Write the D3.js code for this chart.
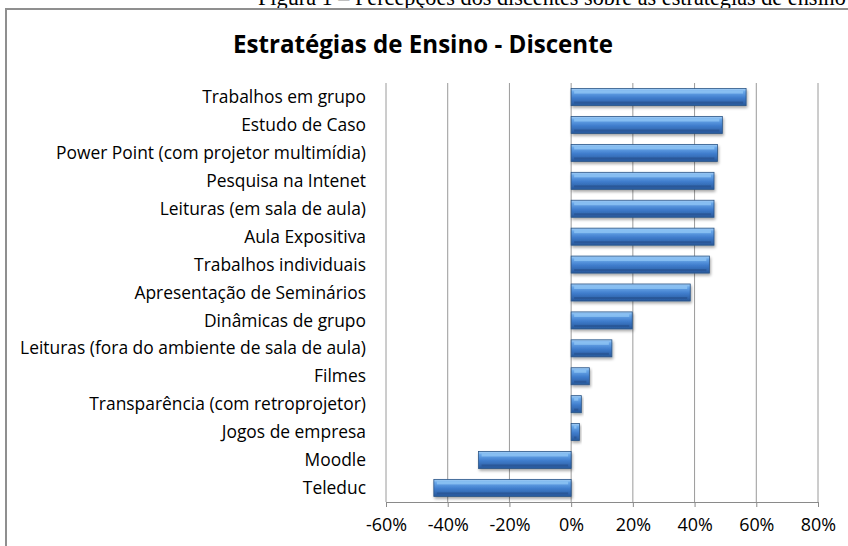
<!DOCTYPE html>
<html lang="pt">
<head>
    <meta charset="UTF-8">
    <title>Estratégias de Ensino - Discente</title>
    <script src="https://d3js.org/d3.v7.min.js"></script>
    <style>
        body { margin: 0; background: #fff; }
        .axis text { font-family: "Open Sans", "Noto Sans", sans-serif; font-size: 15px; fill: #000; }
        .label { font-family: "Open Sans", "Noto Sans", sans-serif; font-size: 15px; fill: #000; }
    </style>
</head>
<body>
    <svg id="chart" width="848" height="546"></svg>

    <script>
        // Data
        const categories = [
            "Trabalhos em grupo",
            "Estudo de Caso",
            "Power Point (com projetor multimídia)",
            "Pesquisa na Intenet",
            "Leituras (em sala de aula)",
            "Aula Expositiva",
            "Trabalhos individuais",
            "Apresentação de Seminários",
            "Dinâmicas de grupo",
            "Leituras (fora do ambiente de sala de aula)",
            "Filmes",
            "Transparência (com retroprojetor)",
            "Jogos de empresa",
            "Moodle",
            "Teleduc"
        ];
        const values = [0.567, 0.49, 0.474, 0.463, 0.463, 0.463, 0.448, 0.386, 0.198, 0.132, 0.059, 0.033, 0.027, -0.30, -0.445];
        const tickValues = [-0.6, -0.4, -0.2, 0, 0.2, 0.4, 0.6, 0.8];

        const data = categories.map((c, i) => ({ name: c, value: values[i] }));

        const svg = d3.select("#chart");
        const plot = { left: 386, right: 818, top: 83, bottom: 502 };

        const x = d3.scaleLinear().domain([-0.6, 0.8]).range([plot.left, plot.right]);
        const y = d3.scaleBand().domain(categories).range([plot.top, plot.bottom]).paddingInner(0.39).paddingOuter(0.2);

        // shrink/grow a text's font so it spans the width seen in the reference
        function fitWidth(sel, target) {
            const node = sel.node();
            const size = parseFloat(getComputedStyle(node).fontSize);
            const w = node.getComputedTextLength();
            sel.style("font-size", (size * target / w).toFixed(2) + "px");
        }

        // figure caption (clipped at the top of the page, as in the source)
        const caption = svg.append("text")
            .attr("x", 258).attr("y", 5)
            .style("font-family", "'Liberation Serif', 'Times New Roman', serif")
            .style("font-size", "20px")
            .text("Figura 1 – Percepções dos discentes sobre as estratégias de ensino");
        fitWidth(caption, 588);

        // chart frame
        svg.append("rect")
            .attr("x", 6).attr("y", 9).attr("width", 860).attr("height", 560)
            .attr("fill", "#fff").attr("stroke", "#8f8f8f").attr("stroke-width", 2);

        // title
        const title = svg.append("text")
            .attr("x", 423).attr("y", 53)
            .attr("text-anchor", "middle")
            .style("font-family", "'Open Sans', 'Noto Sans', sans-serif")
            .style("font-weight", "bold")
            .style("font-size", "21px")
            .text("Estratégias de Ensino - Discente");
        fitWidth(title, 380);

        // gridlines
        svg.append("g").selectAll("line")
            .data(tickValues)
            .enter().append("line")
            .attr("x1", d => x(d)).attr("x2", d => x(d))
            .attr("y1", plot.top).attr("y2", plot.bottom)
            .attr("stroke", "#9a9a9a").attr("stroke-width", 1);

        // bar gradients / shadow
        const defs = svg.append("defs");
        const grad = defs.append("linearGradient").attr("id", "barGrad")
            .attr("x1", 0).attr("y1", 0).attr("x2", 0).attr("y2", 1);
        grad.append("stop").attr("offset", "0%").attr("stop-color", "#a8d2f7");
        grad.append("stop").attr("offset", "18%").attr("stop-color", "#6aa8ea");
        grad.append("stop").attr("offset", "55%").attr("stop-color", "#3f7ccc");
        grad.append("stop").attr("offset", "100%").attr("stop-color", "#28589a");

        const shadow = defs.append("filter").attr("id", "shadow")
            .attr("x", "-10%").attr("y", "-30%").attr("width", "130%").attr("height", "180%");
        shadow.append("feGaussianBlur").attr("in", "SourceAlpha").attr("stdDeviation", 1.5);
        shadow.append("feOffset").attr("dx", 1).attr("dy", 2).attr("result", "blur");
        shadow.append("feComponentTransfer").append("feFuncA").attr("type", "linear").attr("slope", 0.35);
        const merge = shadow.append("feMerge");
        merge.append("feMergeNode");
        merge.append("feMergeNode").attr("in", "SourceGraphic");

        const bars = svg.append("g").selectAll("g.bar")
            .data(data)
            .enter().append("g")
            .attr("class", "bar");

        bars.append("rect")
            .attr("x", d => x(Math.min(0, d.value)))
            .attr("y", d => y(d.name))
            .attr("width", d => Math.abs(x(d.value) - x(0)))
            .attr("height", y.bandwidth())
            .attr("fill", "url(#barGrad)")
            .attr("stroke", "#2a5486").attr("stroke-width", 0.8)
            .attr("filter", "url(#shadow)");

        // bevel: lighter top strip and darker bottom strip inset
        bars.append("rect")
            .attr("x", d => x(Math.min(0, d.value)) + 3)
            .attr("y", d => y(d.name) + 2)
            .attr("width", d => Math.max(0, Math.abs(x(d.value) - x(0)) - 6))
            .attr("height", 3)
            .attr("fill", "#8fc4f4").attr("opacity", 0.8);

        bars.append("rect")
            .attr("x", d => x(Math.min(0, d.value)) + 3)
            .attr("y", d => y(d.name) + y.bandwidth() - 4)
            .attr("width", d => Math.max(0, Math.abs(x(d.value) - x(0)) - 6))
            .attr("height", 2)
            .attr("fill", "#244f8a").attr("opacity", 0.6);

        // category labels
        const labels = svg.append("g").selectAll("text")
            .data(data)
            .enter().append("text")
            .attr("class", "label")
            .attr("x", 366)
            .attr("y", d => y(d.name) + y.bandwidth() / 2)
            .attr("dy", "0.35em")
            .attr("text-anchor", "end")
            .text(d => d.name);
        // longest label spans ~346px in the reference
        const longest = labels.filter(d => d.name.startsWith("Leituras (fora"));
        const baseSize = parseFloat(getComputedStyle(longest.node()).fontSize);
        const labelSize = baseSize * 346 / longest.node().getComputedTextLength();
        labels.style("font-size", labelSize.toFixed(2) + "px");

        // x axis
        const xAxis = svg.append("g")
            .attr("class", "axis")
            .attr("transform", `translate(0,${plot.bottom})`)
            .call(d3.axisBottom(x).tickValues(tickValues).tickSize(5).tickPadding(11)
                .tickFormat(d => Math.round(d * 100) + "%"));
        xAxis.select(".domain").attr("stroke", "#8a8a8a");
        xAxis.selectAll(".tick line").attr("stroke", "#8a8a8a");
        xAxis.selectAll(".tick text").style("font-size", (labelSize * 1.03).toFixed(2) + "px");
    </script>
</body>
</html>
